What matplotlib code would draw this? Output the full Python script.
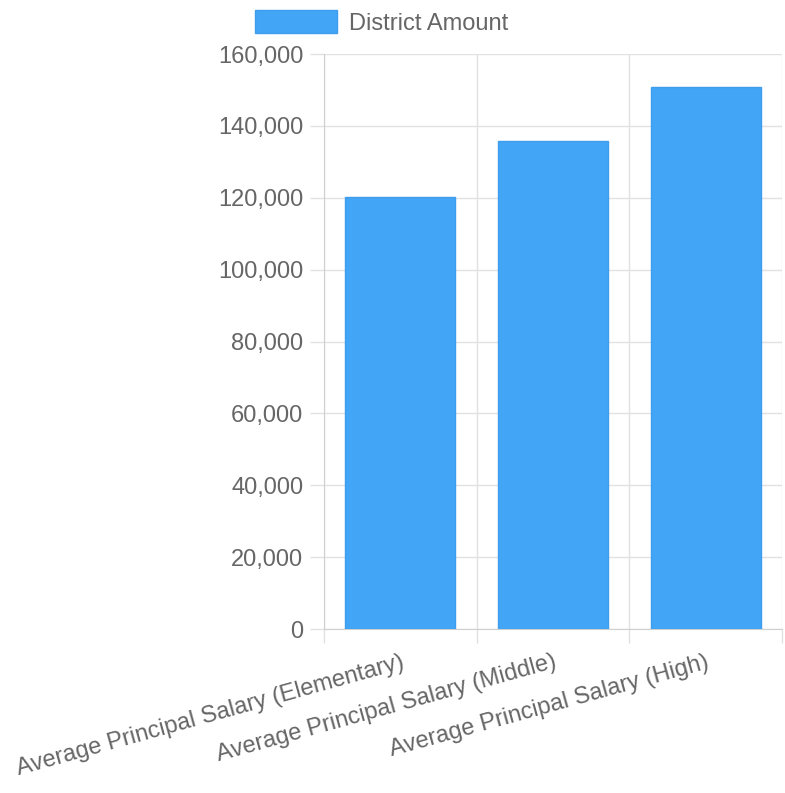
import matplotlib.pyplot as plt
from matplotlib.ticker import FuncFormatter, FixedLocator

categories = ['Average Principal Salary (Elementary)',
              'Average Principal Salary (Middle)',
              'Average Principal Salary (High)']
district_amount = [120200, 135800, 150800]
y_ticks = [0, 20000, 40000, 60000, 80000, 100000, 120000, 140000, 160000]

plt.rcParams['font.family'] = ['Liberation Sans', 'DejaVu Sans']
text_col = '#666666'
grid_col = '#e1e1e1'
fs = 17

fig = plt.figure(figsize=(7.85, 7.93), dpi=100)
ax = fig.add_axes([0.4127, 0.2068, 0.5835, 0.7251])

x = list(range(len(categories)))
bars = ax.bar(x, district_amount, width=0.72, color='#42a5f5',
              edgecolor='#3f9ded', linewidth=1, label='District Amount', zorder=3)

ax.set_xlim(-0.5, len(categories) - 0.5)
ax.set_ylim(0, 160000)
ax.set_yticks(y_ticks)
ax.yaxis.set_major_formatter(FuncFormatter(lambda v, p: '{:,.0f}'.format(v)))

ax.set_xticks(x)
ax.set_xticklabels(categories, rotation=15.5, ha='right', rotation_mode='anchor')
ax.xaxis.set_minor_locator(FixedLocator([i - 0.5 for i in range(len(categories) + 1)]))

ax.tick_params(axis='y', length=10, width=1, color=grid_col, pad=5,
               labelsize=fs, labelcolor=text_col)
ax.tick_params(axis='x', which='major', length=0, pad=16,
               labelsize=fs, labelcolor=text_col)
ax.tick_params(axis='x', which='minor', length=10, width=1, color=grid_col)

ax.grid(axis='y', color=grid_col, linewidth=1, zorder=0)
ax.grid(axis='x', which='minor', color=grid_col, linewidth=1, zorder=0)

for side in ['top', 'right']:
    ax.spines[side].set_visible(False)
for side in ['left', 'bottom']:
    ax.spines[side].set_color('#cfcfcf')

fig.legend(handles=[bars], labels=['District Amount'], loc='upper center',
           bbox_to_anchor=(0.486, 0.999), frameon=False, fontsize=fs,
           labelcolor=text_col, handlelength=3.45, handleheight=1.1,
           handletextpad=0.5, borderaxespad=0.0)

fig.savefig('out.png', dpi=100)
